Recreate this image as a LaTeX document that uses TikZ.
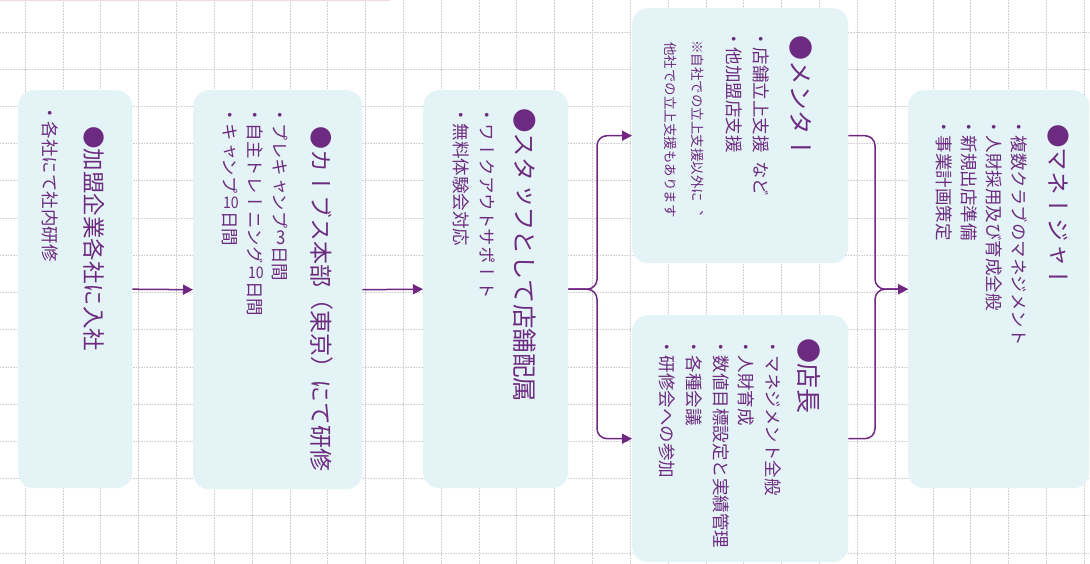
\documentclass[tikz,border=0pt]{standalone}
\usepackage{fontspec}
\usepackage{graphicx}
\usetikzlibrary{arrows.meta}
\newfontfamily\vjp[Vertical=RotatedGlyphs]{Noto Sans CJK JP}
\newfontfamily\hjp{Noto Sans CJK JP}
\newcommand\tcy[2][16]{\hbox to 1em{\hss\raisebox{\dimexpr0.45em-0.5\height\relax}{\rotatebox{90}{\scalebox{0.88}[1]{\hjp\fontsize{#1}{#1}\selectfont #2}}}\hss}}
\newcommand\hzg[1]{\hbox to 1em{\hss\raisebox{0.07em}{\hjp #1}\hss}}
\definecolor{boxfill}{RGB}{228,243,245}
\definecolor{purp}{RGB}{112,38,130}
\definecolor{txt}{RGB}{108,42,128}
\definecolor{gridc}{RGB}{206,206,211}
\definecolor{pinkc}{RGB}{246,214,222}
\tikzset{
  gridline/.style={gridc, densely dotted, line width=0.6pt},
  box/.style={fill=boxfill, draw=none, rounded corners=16pt, anchor=north west, inner sep=0pt},
  arr/.style={purp, line width=1.5pt, -{Triangle[length=10pt,width=10pt]}},
  vt/.style={rotate=-90, anchor=base west, inner sep=0pt, text=txt, font=\vjp\fontsize{17.5}{20}\selectfont},
  vtt/.style={vt, font=\vjp\fontsize{#1}{#1}\selectfont},
  vtn/.style={vt, font=\vjp\fontsize{13.5}{16}\selectfont},
}
\begin{document}
\begin{tikzpicture}[x=1pt,y=-1pt]
\useasboundingbox (0,0) rectangle (1090,564);
\fill[white] (0,0) rectangle (1090,564);
\foreach \i in {0,...,28} \draw[gridline] ({25+37.83*\i},0) -- ({25+37.83*\i},564);
\foreach \j in {0,...,14} \draw[gridline] (0,{32+37.2*\j}) -- (1090,{32+37.2*\j});
\draw[pinkc, line width=1.2pt] (0,0.6) -- (390,0.6);
% boxes
\node[box, minimum width=114pt, minimum height=398pt] (b1) at (18,90) {};
\node[box, minimum width=169pt, minimum height=399pt] (b2) at (193,90) {};
\node[box, minimum width=145pt, minimum height=398pt] (b3) at (423,90) {};
\node[box, minimum width=216pt, minimum height=255pt] (b4) at (632,8) {};
\node[box, minimum width=216pt, minimum height=247pt] (b5) at (632,315) {};
\node[box, minimum width=181pt, minimum height=398pt] (b6) at (908,90) {};
% connectors
\coordinate (jl) at (597,289);
\coordinate (jr) at (875,289);
\draw[arr] (b1.east) -- (b2.west);
\draw[arr] (b2.east) -- (b3.west);
\draw[arr, rounded corners=10pt] (b3.east) -| (jl |- b4.west) -- (b4.west);
\draw[arr, rounded corners=10pt] (b3.east) -| (jl |- b5.west) -- (b5.west);
\draw[arr, rounded corners=10pt] (b4.east) -| (jr |- b6.west) -- (b6.west);
\draw[arr, rounded corners=10pt] (b5.east) -| (jr |- b6.west) -- (b6.west);
% box 1
\node[vtt=22.5] (t1) at (85,126) {●加盟企業各社に入社};
\node[vt] (l1a) at (43.6,104) {・各社にて社内研修};
% box 2
\node[vtt=23] (t2) at (312,126) {●カーブス本部\hzg{（}東京\hzg{）}にて研修};
\node[vt] (l2a) at (273,106) {・プレキャンプ\tcy[19]{3}日間};
\node[vt] (l2b) at (248,106) {・自主トレーニング\tcy{10}日間};
\node[vt] (l2c) at (223,106) {・キャンプ\tcy{10}日間};
% box 3
\node[vtt=24.5] (t3) at (515,108) {●スタッフとして店舗配属};
\node[vt] (l3a) at (480,106) {・ワークアウトサポート};
\node[vt] (l3b) at (454,106) {・無料体験会対応};
% mentor
\node[vtt=25] (t4) at (791,35) {●メンター};
\node[vt] (l4a) at (754.6,30) {・店舗立上支援\hspace{0.5em}など};
\node[vt] (l4b) at (727.6,30) {・他加盟店支援};
\node[vtn] (n4a) at (692.4,40) {※自社での立上支援以外に︑};
\node[vtn] (n4b) at (665.4,42) {他社での立上支援もあります};
% tencho
\node[vtt=25] (t5) at (799,338) {●店長};
\node[vt] (l5a) at (766,338) {・マネジメント全般};
\node[vt] (l5b) at (739,338) {・人財育成};
\node[vt] (l5c) at (714,338) {・数値目標設定と実績管理};
\node[vt] (l5d) at (687,338) {・各種会議};
\node[vt] (l5e) at (660,338) {・研修会への参加};
% manager
\node[vtt=23.5] (t6) at (1049,124) {●マネージャー};
\node[vt] (l6a) at (1012,118) {・複数クラブのマネジメント};
\node[vt] (l6b) at (987,118) {・人財採用及び育成全般};
\node[vt] (l6c) at (962,118) {・新規出店準備};
\node[vt] (l6d) at (937,118) {・事業計画策定};
\end{tikzpicture}
\end{document}
